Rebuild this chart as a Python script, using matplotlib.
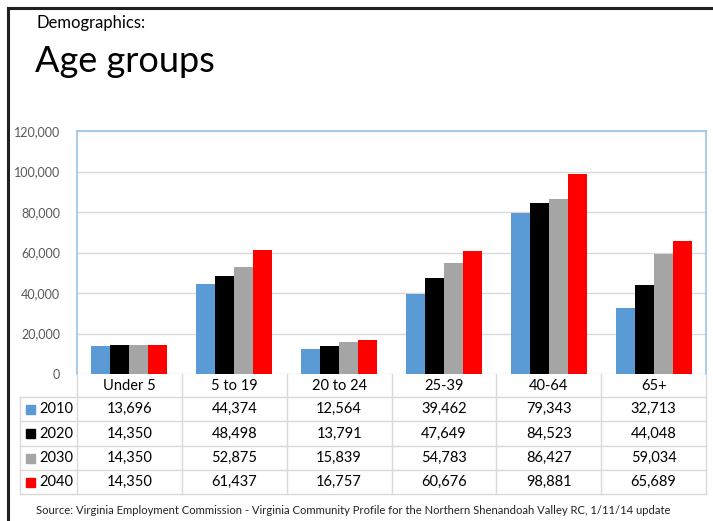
import numpy as np
import matplotlib.pyplot as plt
from matplotlib.lines import Line2D
from matplotlib.patches import Rectangle
from matplotlib.ticker import FuncFormatter

plt.rcParams['font.family'] = ['Lato', 'DejaVu Sans']

categories = ['Under 5', '5 to 19', '20 to 24', '25-39', '40-64', '65+']
years = ['2010', '2020', '2030', '2040']
v2010 = [13696, 44374, 12564, 39462, 79343, 32713]
v2020 = [14350, 48498, 13791, 47649, 84523, 44048]
v2030 = [14350, 52875, 15839, 54783, 86427, 59034]
v2040 = [14350, 61437, 16757, 60676, 98881, 65689]
series = [v2010, v2020, v2030, v2040]
colors = ['#5B9BD5', '#000000', '#A5A5A5', '#FF0000']

W, H = 713, 521
fig = plt.figure(figsize=(W / 100, H / 100), dpi=100)


def fx(px):
    return px / W


def fy(py):
    return 1 - py / H


# outer frame (left and top only)
fig.add_artist(Line2D([fx(8), fx(8)], [fy(8), 0], color='#202020', lw=2.2))
fig.add_artist(Line2D([fx(8), 1], [fy(8), fy(8)], color='#202020', lw=2.2))

fig.text(fx(36), fy(23), 'Demographics:', fontsize=12, va='center', ha='left')
fig.text(fx(35), fy(61), 'Age groups', fontsize=26, va='center', ha='left')

# plot area
left, right, top, bottom = 77, 706, 131, 374
ax = fig.add_axes([fx(left), fy(bottom), fx(right - left), (bottom - top) / H])
n = len(categories)
x = np.arange(n)
bw = 0.181
for i, (vals, c) in enumerate(zip(series, colors)):
    ax.bar(x + (i - 1.5) * bw, vals, width=bw, color=c, zorder=3)

ax.set_xlim(-0.5, n - 0.5)
ax.set_ylim(0, 120000)
ax.set_yticks(np.arange(0, 120001, 20000))
ax.yaxis.set_major_formatter(FuncFormatter(lambda v, p: f'{int(v):,}'))
ax.tick_params(axis='y', length=0, labelsize=9, labelcolor='#595959', pad=12)
ax.set_xticks([])
ax.grid(axis='y', color='#D9D9D9', lw=1, zorder=0)
for s in ['left', 'top', 'right']:
    ax.spines[s].set_color('#9DC3E6')
    ax.spines[s].set_linewidth(1.2)
ax.spines['bottom'].set_visible(False)

# data table under the chart
grid_c = '#D9D9D9'
row_y = [374, 397, 421, 446, 470, 494]
col_w = (right - left) / n
col_x = [left + k * col_w for k in range(n + 1)]
tbl_left = 20

for yy in row_y[1:]:
    fig.add_artist(Line2D([fx(tbl_left), fx(right)], [fy(yy), fy(yy)], color=grid_c, lw=1))
for xx in col_x:
    fig.add_artist(Line2D([fx(xx), fx(xx)], [fy(row_y[0]), fy(row_y[-1])], color=grid_c, lw=1))
fig.add_artist(Line2D([fx(tbl_left), fx(tbl_left)], [fy(row_y[1]), fy(row_y[-1])], color=grid_c, lw=1))

for k, cat in enumerate(categories):
    cx = (col_x[k] + col_x[k + 1]) / 2
    fig.text(fx(cx), fy((row_y[0] + row_y[1]) / 2), cat, fontsize=10.5,
             ha='center', va='center')

for r, (yr, vals, c) in enumerate(zip(years, series, colors)):
    cy = (row_y[r + 1] + row_y[r + 2]) / 2
    fig.add_artist(Rectangle((fx(26), fy(cy + 4.5)), fx(9), 9 / H, color=c))
    fig.text(fx(39), fy(cy), yr, fontsize=10.5, ha='left', va='center')
    for k, v in enumerate(vals):
        cx = (col_x[k] + col_x[k + 1]) / 2
        fig.text(fx(cx), fy(cy), f'{v:,}', fontsize=10.5, ha='center', va='center')

fig.text(fx(36), fy(511), 'Source: Virginia Employment Commission - Virginia Community Profile '
         'for the Northern Shenandoah Valley RC, 1/11/14 update',
         fontsize=8.1, ha='left', va='center', color='#222222')

fig.savefig('out.png', dpi=100)
